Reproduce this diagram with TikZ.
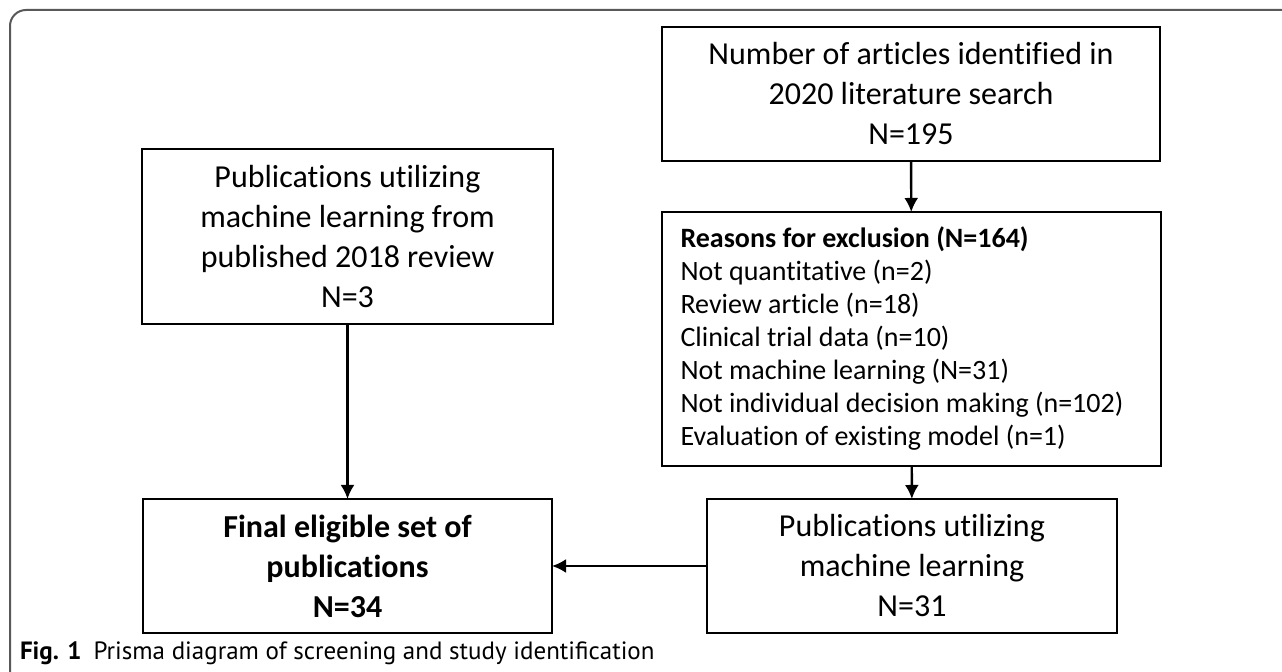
\documentclass[tikz,border=0pt]{standalone}
\usepackage{fontspec}
\setmainfont[Ligatures={NoCommon}]{Carlito}
\newfontfamily\capfont{PT Sans}
\usetikzlibrary{arrows.meta, positioning}
\tikzset{
x=0.5pt, y=-0.5pt, % one unit is one pixel of the original figure
>={Latex[length=7pt,width=7pt]}, % filled triangle heads
every node/.style={inner sep=0pt, outer sep=0pt},
flowbox/.style={draw, line width=1.3pt, align=center, font=\fontsize{16}{20}\selectfont}, % the boxes of the flow
listbox/.style={draw, line width=1.3pt, align=flush left, font=\fontsize{14}{16.5}\selectfont, text width=231pt}, % box with the list of reasons
flow/.style={->, line width=1.2pt}, % connectors
}
\begin{document}
\begin{tikzpicture}
        \useasboundingbox (0,0) rectangle (1282,672);
        % frame of the figure
        \draw[line width=1pt, black!65, rounded corners=8pt] (10,700) -- (10,10) -- (1300,10);

        \node[flowbox, minimum width=498*0.5pt, minimum height=134*0.5pt] (search) at (911,94)
            {Number of articles identified in\\2020 literature search\\N=195};
        \node[flowbox, minimum width=411*0.5pt, minimum height=175*0.5pt] (review) at (347.5,236.5)
            {Publications utilizing\\machine learning from\\published 2018 review\\N=3};
        \node[listbox, minimum width=499*0.5pt, minimum height=254*0.5pt, inner xsep=9pt] (reasons) at (911.5,339)
            {\textbf{Reasons for exclusion (N=164)}\\Not quantitative (n=2)\\Review article (n=18)\\Clinical trial data (n=10)\\Not machine learning (N=31)\\Not individual decision making (n=102)\\Evaluation of existing model (n=1)};
        \node[flowbox, minimum width=410*0.5pt, minimum height=134*0.5pt] (ml) at (912,566)
            {Publications utilizing\\machine learning\\N=31};
        \node[flowbox, minimum width=409*0.5pt, minimum height=134*0.5pt, font=\fontsize{16}{20}\selectfont\bfseries] (final) at (347.5,566)
            {Final eligible set of\\publications\\N=34};

        \draw[flow] (search) -- (reasons);
        \draw[flow] (reasons) -- (ml);
        \draw[flow] (review) -- (final);
        \draw[flow] (ml) -- (final);

        % caption
        \node[anchor=base west, font=\capfont\fontsize{12.5}{14}\selectfont] (caption) at (20,660)
            {\textbf{Fig. 1}\hspace{6pt}Prisma diagram of screening and study identification};
\end{tikzpicture}
\end{document}
